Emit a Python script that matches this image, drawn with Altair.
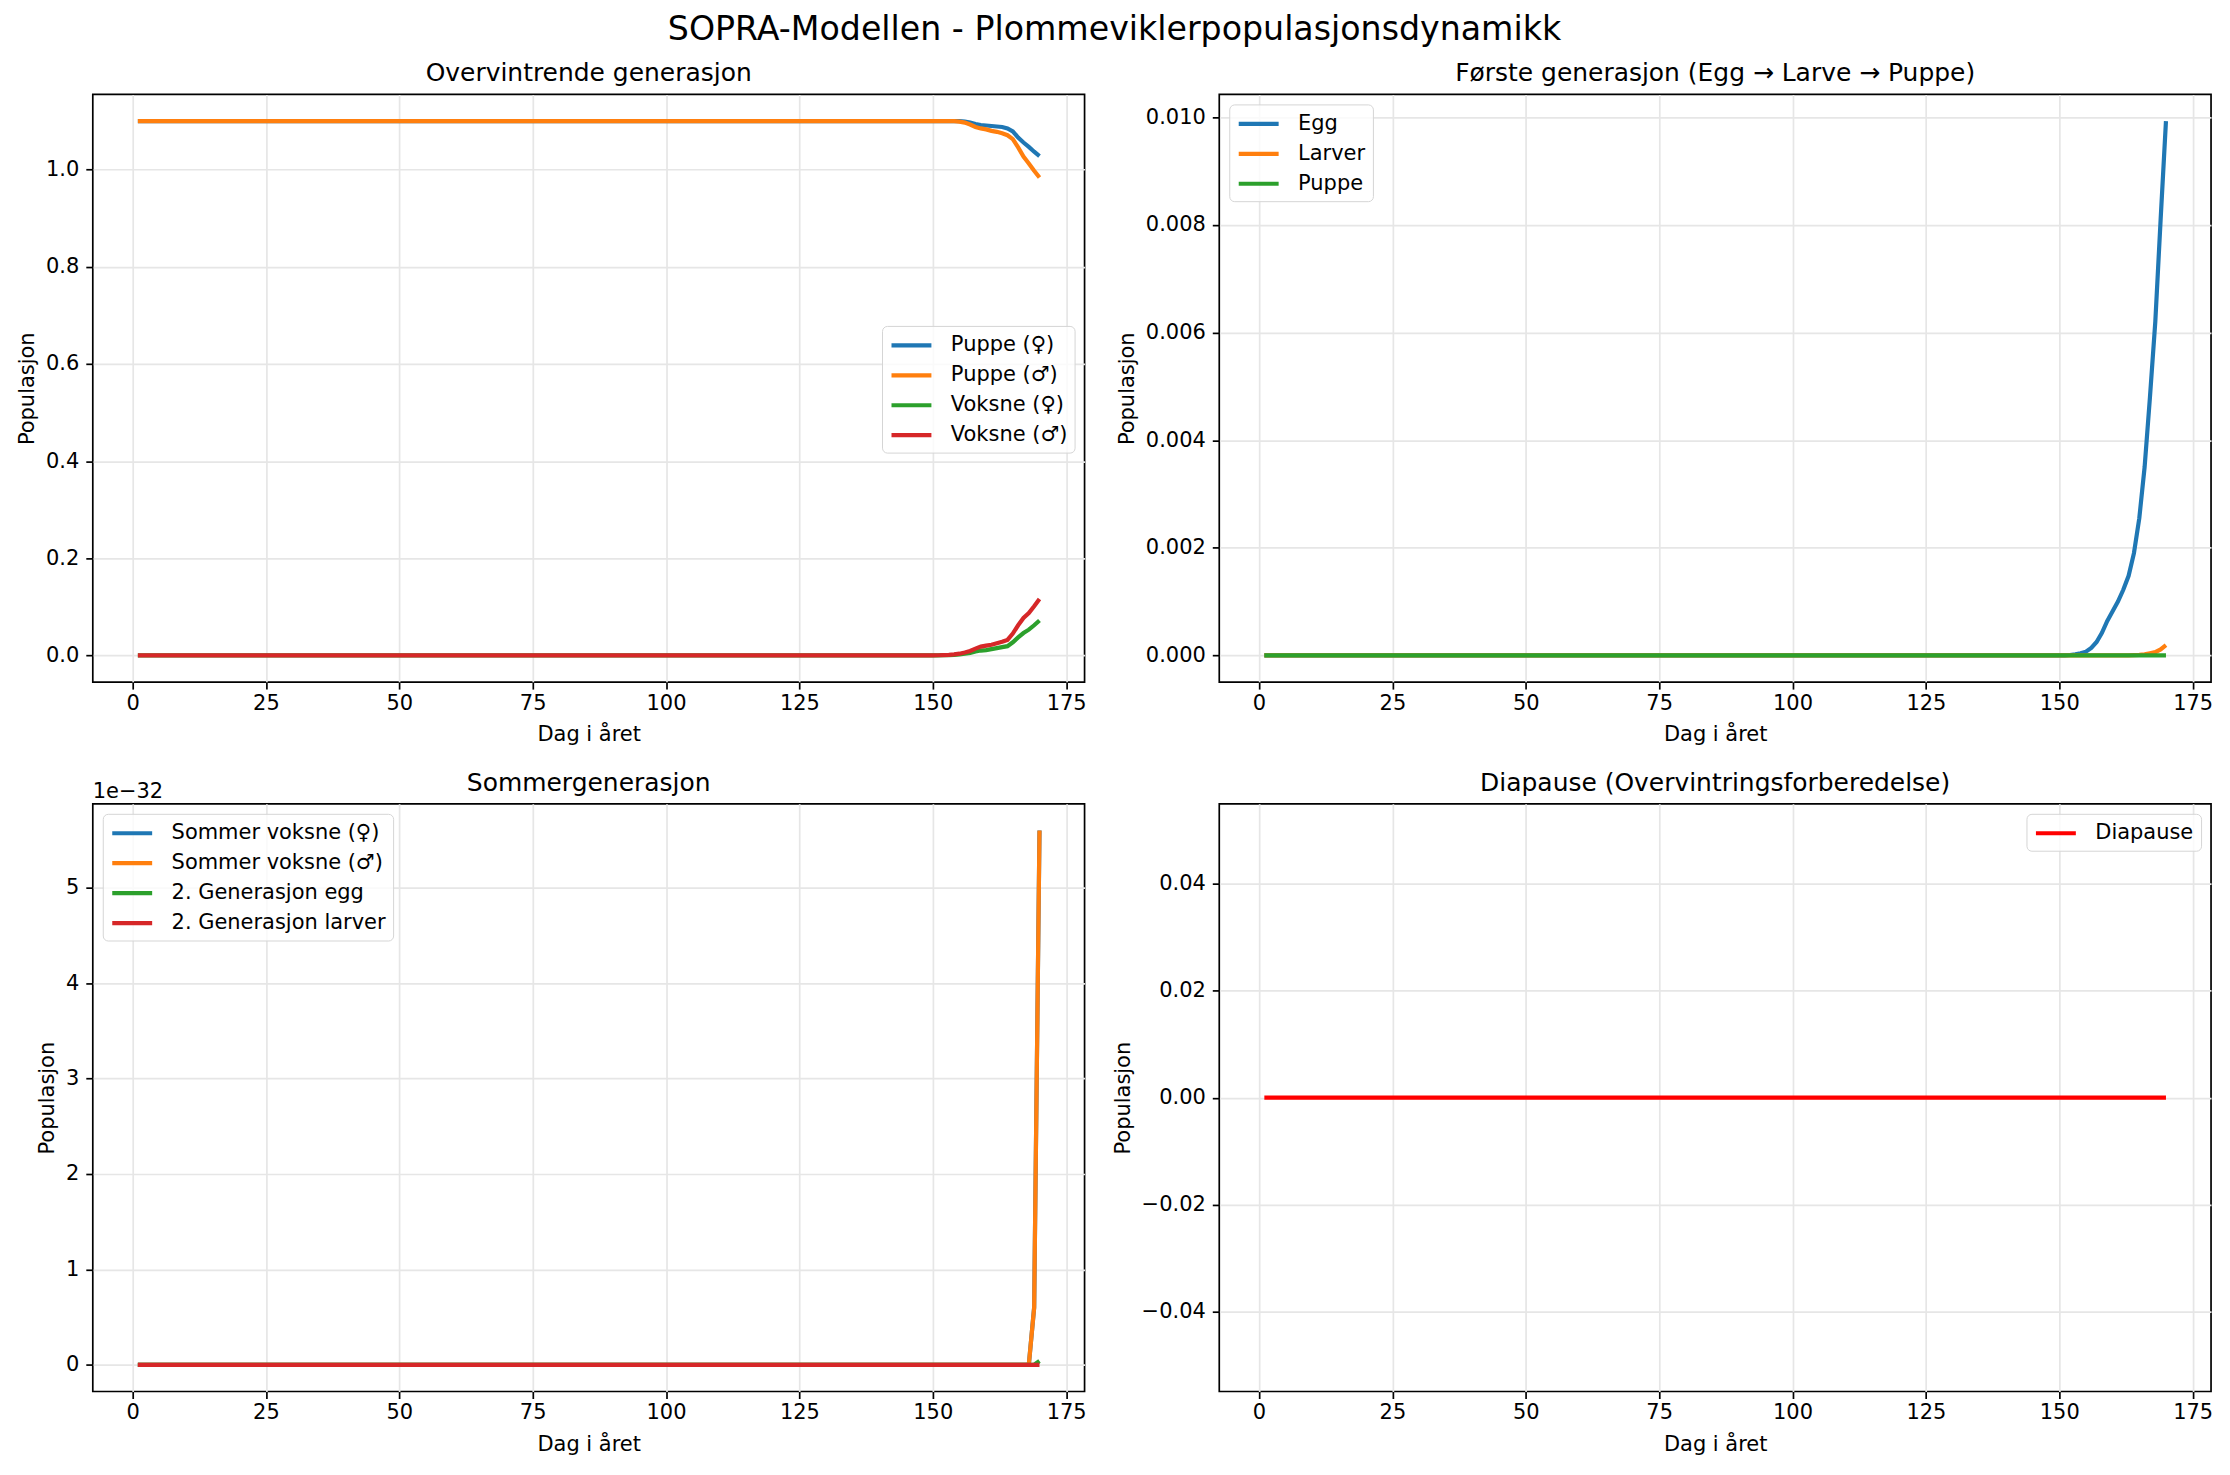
import altair as alt
import pandas as pd

FONT = "DejaVu Sans"

# ---------------- data ----------------
days = [1, 150, 151, 152, 153, 154, 155, 156, 157, 158, 159, 160,
        161, 162, 163, 164, 165, 166, 167, 168, 169, 170]

# Overvintrende generasjon
puppe_f = [1.1, 1.1, 1.1, 1.1, 1.1, 1.1, 1.1, 1.099, 1.097, 1.094, 1.092, 1.091,
           1.090, 1.089, 1.088, 1.085, 1.079, 1.066, 1.056, 1.047, 1.037, 1.028]
puppe_m = [1.1, 1.1, 1.1, 1.1, 1.1, 1.1, 1.099, 1.097, 1.093, 1.088, 1.085, 1.083,
           1.080, 1.078, 1.075, 1.071, 1.063, 1.046, 1.027, 1.013, 0.998, 0.984]
voksne_f = [0, 0, 0.0002, 0.0004, 0.0007, 0.0012, 0.002, 0.0035, 0.005, 0.008, 0.010, 0.011,
            0.013, 0.015, 0.017, 0.019, 0.027, 0.037, 0.046, 0.053, 0.062, 0.072]
voksne_m = [0, 0, 0.0003, 0.0007, 0.0012, 0.002, 0.0035, 0.006, 0.009, 0.014, 0.018, 0.020,
            0.022, 0.025, 0.028, 0.032, 0.045, 0.062, 0.077, 0.087, 0.101, 0.116]

# Første generasjon
egg = [0, 0, 0.000002, 0.000008, 0.00002, 0.00004, 0.00007, 0.00014, 0.00025, 0.00042, 0.00064, 0.00082,
       0.00100, 0.00122, 0.00148, 0.00190, 0.00255, 0.00350, 0.00480, 0.00620, 0.00810, 0.00993]
larver = [0, 0, 0, 0, 0, 0, 0, 0, 0, 0, 0, 0,
          0, 0, 0.000002, 0.000005, 0.00001, 0.00002, 0.00004, 0.00006, 0.00011, 0.00019]
puppe1 = [0] * 22

# Sommergenerasjon (values in units of 1e-32)
sommer_f = [0, 0, 0, 0, 0, 0, 0, 0, 0, 0, 0, 0, 0, 0, 0, 0, 0, 0, 0, 0, 0.6, 5.6]
sommer_m = [0, 0, 0, 0, 0, 0, 0, 0, 0, 0, 0, 0, 0, 0, 0, 0, 0, 0, 0, 0, 0.6, 5.6]
gen2_egg = [0, 0, 0, 0, 0, 0, 0, 0, 0, 0, 0, 0, 0, 0, 0, 0, 0, 0, 0, 0, 0, 0.04]
gen2_larver = [0] * 22
offset_label = ["1e\u221232"]

# Diapause
diapause = [0] * 22

suptitle = ["SOPRA-Modellen - Plommeviklerpopulasjonsdynamikk"]
x_ticks = [0, 25, 50, 75, 100, 125, 150, 175]
TAB = ["#1f77b4", "#ff7f0e", "#2ca02c", "#d62728"]

W, H = 994, 589


def legend(**kw):
    base = dict(title=None, symbolType="M-1,0H3", symbolSize=400, symbolStrokeWidth=4.2,
                labelFontSize=21, labelFont=FONT, labelColor="black", labelOffset=37,
                padding=7, rowPadding=7, fillColor="rgba(255,255,255,0.8)",
                strokeColor="#d5d5d5", cornerRadius=5, labelLimit=1000)
    base.update(kw)
    return alt.Legend(**base)


def text_layer(txt, x, y, size, align="center"):
    return alt.Chart(pd.DataFrame({"t": txt})).mark_text(
        align=align, baseline="alphabetic", fontSize=size, font=FONT, color="black"
    ).encode(x=alt.value(x), y=alt.value(y), text="t:N")


def panel(title, names, values, colors, ydomain, yticks, yfmt, leg, extra=()):
    color = alt.Color("series:N", scale=alt.Scale(domain=names, range=colors), legend=leg)
    layers = []
    for n, vals in zip(names, values):
        df = pd.DataFrame({"day": days, "value": vals, "series": n})
        layers.append(
            alt.Chart(df).mark_line(strokeWidth=4.2).encode(
                x=alt.X("day:Q", scale=alt.Scale(domain=[-7.45, 178.45], nice=False, zero=False),
                        axis=alt.Axis(values=x_ticks, format="d", title="Dag i året")),
                y=alt.Y("value:Q", scale=alt.Scale(domain=ydomain, nice=False, zero=False),
                        axis=alt.Axis(values=yticks, format=yfmt, title="Populasjon")),
                color=color,
            )
        )
    layers.append(text_layer([title], W / 2, -13, 25))
    layers.extend(extra)
    return alt.layer(*layers).properties(width=W, height=H)


tl = panel("Overvintrende generasjon",
           ["Puppe (♀)", "Puppe (♂)", "Voksne (♀)", "Voksne (♂)"],
           [puppe_f, puppe_m, voksne_f, voksne_m], TAB,
           [-0.055, 1.155], [0, 0.2, 0.4, 0.6, 0.8, 1.0], ".1f",
           legend(orient="none", legendX=791, legendY=232),
           extra=[text_layer(suptitle, 1024, -55, 33.3)])

tr = panel("Første generasjon (Egg → Larve → Puppe)",
           ["Egg", "Larver", "Puppe"],
           [egg, larver, puppe1], TAB[:3],
           [-0.0004965, 0.0104265], [0, 0.002, 0.004, 0.006, 0.008, 0.010], ".3f",
           legend(orient="top-left", offset=10))

bl = panel("Sommergenerasjon",
           ["Sommer voksne (♀)", "Sommer voksne (♂)", "2. Generasjon egg", "2. Generasjon larver"],
           [sommer_f, sommer_m, gen2_egg, gen2_larver], TAB,
           [-0.28, 5.88], [0, 1, 2, 3, 4, 5], "d",
           legend(orient="top-left", offset=10),
           extra=[text_layer(offset_label, 0, -6, 21, align="left")])

br = panel("Diapause (Overvintringsforberedelse)",
           ["Diapause"], [diapause], ["#ff0000"],
           [-0.055, 0.055], [-0.04, -0.02, 0, 0.02, 0.04], ".2f",
           legend(orient="top-right", offset=10))

chart = alt.concat(
    tl, tr, bl, br, columns=2,
    spacing={"row": 122, "column": 135},
    bounds="flush",
).resolve_scale(
    color="independent", x="independent", y="independent"
).resolve_legend(
    color="independent"
).properties(
    padding={"left": 15, "top": 10, "right": 16, "bottom": 5},
    background="white",
).configure_view(
    stroke="black", strokeWidth=1.7
).configure_axis(
    labelFont=FONT, labelFontSize=21, labelColor="black",
    titleFont=FONT, titleFontSize=21, titleFontWeight="normal", titleColor="black",
    tickColor="black", tickSize=7, tickWidth=1.7,
    gridColor="#e6e6e6", gridWidth=1.7, domain=False, labelFlush=False,
    labelOverlap=False, labelBound=False,
).configure_axisX(
    labelPadding=3.5, titlePadding=10.5
).configure_axisY(
    labelPadding=7, titlePadding=8
)

chart.save("out.html", embed_options={"renderer": "svg", "actions": False})
